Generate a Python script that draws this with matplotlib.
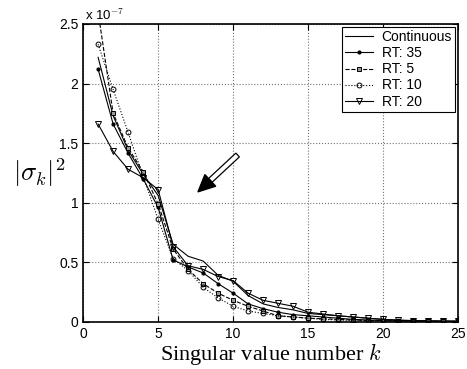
import numpy as np
import matplotlib
matplotlib.use('Agg')
import matplotlib.pyplot as plt
from matplotlib.patches import Polygon
from matplotlib.ticker import FormatStrFormatter

plt.rcParams['font.family'] = 'Liberation Sans'
plt.rcParams['mathtext.fontset'] = 'cm'

# singular value index
k = np.arange(1, 26)

# |sigma_k|^2 in units of 1e-7
continuous = [2.22, 1.73, 1.44, 1.24, 1.06, 0.65, 0.55, 0.51, 0.39, 0.34, 0.22, 0.15, 0.12,
              0.10, 0.07, 0.06, 0.05, 0.04, 0.03, 0.02, 0.015, 0.01, 0.008, 0.006, 0.005]
rt35 = [2.12, 1.66, 1.415, 1.20, 0.96, 0.52, 0.46, 0.41, 0.32, 0.24, 0.15, 0.11, 0.08,
        0.06, 0.05, 0.04, 0.03, 0.02, 0.015, 0.01, 0.006, 0.005, 0.004, 0.003, 0.003]
rt5 = [2.6, 1.75, 1.46, 1.26, 0.99, 0.61, 0.44, 0.32, 0.24, 0.18, 0.13, 0.09, 0.05,
       0.04, 0.03, 0.025, 0.02, 0.015, 0.01, 0.008, 0.006, 0.005, 0.004, 0.003, 0.003]
rt10 = [2.33, 1.95, 1.59, 1.22, 0.86, 0.53, 0.43, 0.29, 0.20, 0.13, 0.09, 0.07, 0.05,
        0.04, 0.03, 0.02, 0.015, 0.01, 0.008, 0.006, 0.005, 0.004, 0.003, 0.003, 0.002]
rt20 = [1.66, 1.43, 1.28, 1.21, 1.11, 0.63, 0.47, 0.44, 0.38, 0.345, 0.24, 0.18, 0.155,
        0.13, 0.08, 0.065, 0.05, 0.04, 0.03, 0.02, 0.012, 0.008, 0.006, 0.005, 0.004]

fig = plt.figure(figsize=(4.67, 3.69), dpi=100)
ax = fig.add_axes([0.178, 0.128, 0.803, 0.807])

ax.plot(k, continuous, 'k-', linewidth=0.8, label='Continuous')
ax.plot(k, rt35, 'k-', marker='.', markersize=4, linewidth=0.8, label='RT: 35')
ax.plot(k, rt5, 'k--', marker='s', markersize=3, markerfacecolor='0.6',
        markeredgewidth=0.7, linewidth=0.8, label='RT: 5')
ax.plot(k, rt10, 'k:', marker='o', markersize=3.5, markerfacecolor='none',
        markeredgewidth=0.7, linewidth=0.8, label='RT: 10')
ax.plot(k, rt20, 'k-', marker='v', markersize=3.8, markerfacecolor='none',
        markeredgewidth=0.7, linewidth=0.8, label='RT: 20')

ax.set_xlim(0, 25)
ax.set_ylim(0, 2.5)
ax.set_xticks([0, 5, 10, 15, 20, 25])
ax.set_yticks([0, 0.5, 1, 1.5, 2, 2.5])
ax.yaxis.set_major_formatter(FormatStrFormatter('%g'))
ax.tick_params(direction='in', labelsize=10, top=True, right=True, length=4)
ax.grid(True, linestyle=':', color='0.45', linewidth=0.8)
for s in ax.spines.values():
    s.set_linewidth(1.2)

ax.text(0.005, 1.003, r'x 10$^{-7}$', transform=ax.transAxes, fontsize=9.5,
        va='bottom', ha='left')

ax.set_xlabel(r'Singular value number $k$', family='Liberation Serif', fontsize=16,
              labelpad=0.5)
ax.set_ylabel(r'$|\sigma_k|^2$', fontsize=19, rotation=0, labelpad=14, va='center')

# arrow: hollow shaft, filled head (built in pixel space)
tail = ax.transData.transform((10.3, 1.40))
tip = ax.transData.transform((7.65, 1.09))
u = (tip - tail) / np.hypot(*(tip - tail))
n = np.array([-u[1], u[0]])
hl, hw, sw = 17, 8, 2.6
base = tip - hl * u
inv = ax.transData.inverted()
shaft = [tail + sw * n, base + sw * n, base - sw * n, tail - sw * n]
head = [tip, base + hw * n, base - hw * n]
ax.add_patch(Polygon(inv.transform(shaft), closed=True, facecolor='white',
                     edgecolor='black', linewidth=0.9, zorder=5))
ax.add_patch(Polygon(inv.transform(head), closed=True, facecolor='black',
                     edgecolor='black', linewidth=0.9, zorder=6))

leg = ax.legend(loc='upper right', fontsize=10, fancybox=False, framealpha=1,
                edgecolor='black', handlelength=2.0, borderaxespad=0.2,
                labelspacing=0.15, borderpad=0.25, handletextpad=0.6)
leg.get_frame().set_linewidth(0.8)

fig.savefig('out.png', dpi=100)
